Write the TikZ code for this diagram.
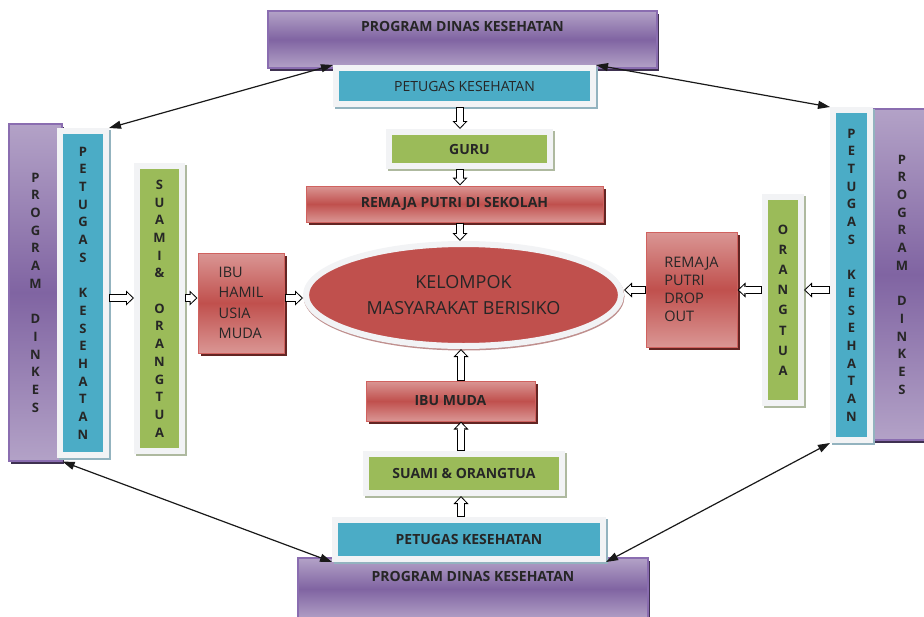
\documentclass[tikz,border=0pt]{standalone}
\usepackage{fontspec}
\setmainfont{Open Sans}
\usepackage{tikz}
\usetikzlibrary{arrows.meta,shapes.geometric,shadows}

\definecolor{purpledark}{HTML}{8064A2}
\definecolor{purplelight}{HTML}{B3A2C7}
\definecolor{purpleline}{HTML}{8A6DB0}
\definecolor{purpleshadow}{HTML}{3F3151}
\definecolor{tealc}{HTML}{4BACC6}
\definecolor{tealshadow}{HTML}{93B3BF}
\definecolor{greenc}{HTML}{9BBB59}
\definecolor{greenshadow}{HTML}{AEB99F}
\definecolor{redc}{HTML}{C0504D}
\definecolor{redlight}{HTML}{DA9694}
\definecolor{redline}{HTML}{D0625F}
\definecolor{redshadow}{HTML}{632523}
\definecolor{framegray}{HTML}{F2F3F5}
\definecolor{textdark}{HTML}{262626}

\begin{document}
\begin{tikzpicture}[x=1pt, y=-1pt,
  purplebox/.style={draw=purpleline, line width=1.2pt, top color=purplelight, bottom color=purplelight, middle color=purpledark, inner sep=0pt, text=textdark, font=\bfseries\fontsize{14}{17}\selectfont, drop shadow={shadow xshift=2pt, shadow yshift=-3pt, fill=purpleshadow, opacity=1}},
  framebox/.style={draw=framegray, line width=6pt, inner sep=0pt, text=textdark, font=\bfseries\fontsize{14}{17}\selectfont},
  tealbox/.style={framebox, fill=tealc, drop shadow={shadow xshift=2pt, shadow yshift=-2pt, fill=tealshadow, draw=tealshadow, line width=6pt, opacity=1}},
  greenbox/.style={framebox, fill=greenc, drop shadow={shadow xshift=2pt, shadow yshift=-2pt, fill=greenshadow, draw=greenshadow, line width=6pt, opacity=1}},
  redbox/.style={draw=redline, line width=1pt, top color=redlight, bottom color=redlight, middle color=redc, inner sep=0pt, text=textdark, font=\bfseries\fontsize{14}{17}\selectfont, drop shadow={shadow xshift=3pt, shadow yshift=-3pt, fill=redshadow, opacity=1}},
  vtext/.style={align=center, font=\bfseries\fontsize{13}{17.7}\selectfont},
  plain/.style={font=\fontsize{14.5}{18}\selectfont},
  hollow/.style={draw=black, line width=8pt, -{Triangle[length=8pt,width=15pt,line width=0pt]},
    postaction={draw=white, line width=6pt, shorten <=1pt, shorten >=1.47pt, -{Triangle[length=5.5pt,width=10.4pt,line width=0pt]}}},
  link/.style={draw=black!90, line width=1.2pt, {Triangle[length=12pt,width=8pt]}-{Triangle[length=12pt,width=8pt]}}
]
\useasboundingbox (0,0) rectangle (924,616);

% program boxes
\node[purplebox, minimum width=389, minimum height=57, text height=20pt, text depth=37pt] (prog) at (462.5,39.5) {PROGRAM DINAS KESEHATAN};
\node[purplebox, minimum width=350, minimum height=62, text height=23pt, text depth=39pt] (bprog) at (473,589) {PROGRAM DINAS KESEHATAN};
\node[purplebox, vtext, minimum width=53, minimum height=337] (ldin) at (35.5,292.5) {P\\R\\O\\G\\R\\A\\M\\~\\D\\I\\N\\K\\E\\S};
\node[purplebox, vtext, minimum width=58, minimum height=331] (rdin) at (902,274.5) {P\\R\\O\\G\\R\\A\\M\\~\\D\\I\\N\\K\\E\\S};

% petugas, guru, suami
\node[tealbox, font=\fontsize{14}{17}\selectfont, minimum width=257, minimum height=36] (tpet) at (464.5,86) {PETUGAS KESEHATAN};
\node[greenbox, minimum width=161, minimum height=34] (guru) at (469.5,149) {GURU};
\node[greenbox, minimum width=196, minimum height=39] (suami) at (464,473.5) {SUAMI \& ORANGTUA};
\node[tealbox, minimum width=268, minimum height=39] (bpet) at (469,539.5) {PETUGAS KESEHATAN};
\node[tealbox, vtext, minimum width=46, minimum height=324] (lpet) at (83,293) {P\\E\\T\\U\\G\\A\\S\\~\\K\\E\\S\\E\\H\\A\\T\\A\\N};
\node[greenbox, vtext, minimum width=45, minimum height=285] (lsua) at (159.5,308.5) {S\\U\\A\\M\\I\\\&\\~\\O\\R\\A\\N\\G\\T\\U\\A};
\node[tealbox, vtext, minimum width=37, minimum height=330] (rpet) at (851.5,275) {P\\E\\T\\U\\G\\A\\S\\~\\K\\E\\S\\E\\H\\A\\T\\A\\N};
\node[greenbox, vtext, font=\bfseries\fontsize{13}{20.2}\selectfont, minimum width=36, minimum height=206] (orang) at (783,300) {O\\R\\A\\N\\G\\T\\U\\A};

% remaja, ibu
\node[redbox, minimum width=297, minimum height=36] (rps) at (454.5,204) {REMAJA PUTRI DI SEKOLAH};
\node[redbox, minimum width=169, minimum height=40] (ibum) at (450.5,401) {IBU MUDA};
\node[redbox, plain, align=left, minimum width=86, minimum height=100] (hamil) at (241,303) {IBU\\[2.5pt]HAMIL\\[2.5pt]USIA\\[2.5pt]MUDA};
\node[redbox, plain, align=left, minimum width=91, minimum height=115] (drop) at (691.5,289.5) {REMAJA\\PUTRI\\DROP\\OUT};

% kelompok
\node[ellipse, draw=framegray, line width=6pt, fill=redc, inner sep=0pt, minimum width=315, minimum height=102, align=center, text=textdark, font=\fontsize{18}{26}\selectfont, drop shadow={shadow xshift=0.5pt, shadow yshift=-1.5pt, fill=redlight!70!gray, draw=redlight!70!gray, line width=6pt, opacity=1}] (kel) at (463.5,295) {KELOMPOK\\MASYARAKAT BERISIKO};

% arrows
\draw[hollow] (tpet.south -| 460,0) -- (guru.north -| 460,0);
\draw[hollow] (guru.south -| 460,0) -- (rps.north -| 460,0);
\draw[hollow] (rps.south -| 460,0) -- (kel.north -| 460,0);
\draw[hollow] (ibum.north -| 461,0) -- (kel.south -| 461,0);
\draw[hollow] (suami.north -| 461,0) -- (ibum.south -| 461,0);
\draw[hollow] (bpet.north -| 461,0) -- (suami.south -| 461,0);
\draw[hollow] (lpet.east |- 0,298) -- (lsua.west |- 0,298);
\draw[hollow] (lsua.east |- 0,298) -- (hamil.west |- 0,298);
\draw[hollow] (hamil.east |- 0,298) -- (kel.west |- 0,298);
\draw[hollow] (rpet.west |- 0,290) -- (orang.east |- 0,290);
\draw[hollow] (orang.west |- 0,290) -- (drop.east |- 0,290);
\draw[hollow] (drop.west |- 0,290) -- (kel.east |- 0,290);

\draw[link] (lpet.north east) -- (tpet.north west);
\draw[link] (tpet.north east) -- (rpet.north west);
\draw[link] (ldin.south east) -- (bpet.south west);
\draw[link] (bpet.south east) -- (rpet.south west);
\end{tikzpicture}
\end{document}
